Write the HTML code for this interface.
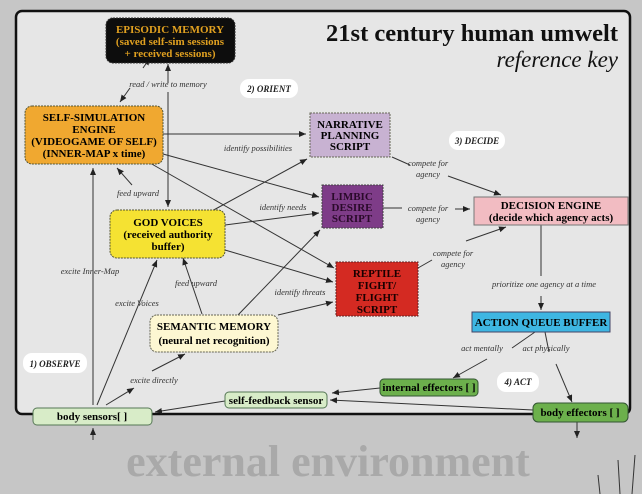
<!DOCTYPE html>
<html><head><meta charset="utf-8"><style>
body{margin:0;background:#c6c6c6;}
svg{display:block;font-family:"Liberation Serif",serif;}
.b{font-weight:bold;font-size:11px;text-anchor:middle;}
.l{font-style:italic;font-size:8.5px;fill:#333;text-anchor:middle;}
line,path.c{stroke:#333;stroke-width:1;fill:none;}
</style></head><body>
<svg width="642" height="494" viewBox="0 0 642 494">
<defs><marker id="a" markerWidth="8" markerHeight="8" refX="7" refY="3" orient="auto" markerUnits="userSpaceOnUse"><path d="M0,0 L7,3 L0,6z" fill="#222"/></marker></defs>
<rect width="642" height="494" fill="#c6c6c6"/>
<rect x="16" y="11" width="614" height="403" rx="6" fill="#e6e6e6" stroke="#111" stroke-width="2.5"/>
<text x="618" y="41" font-size="24.5" font-weight="bold" text-anchor="end" fill="#111">21st century human umwelt</text>
<text x="618" y="67" font-size="23" font-style="italic" text-anchor="end" fill="#111">reference key</text>
<text x="328" y="476" font-size="44" font-weight="bold" text-anchor="middle" fill="#a9a9a9">external environment</text>
<g stroke="#fff" stroke-width="2"><line x1="620" y1="494" x2="618" y2="460"/><line x1="632" y1="494" x2="635" y2="455"/><line x1="600" y1="494" x2="598" y2="475"/></g>

<g marker-end="url(#a)">
<line x1="143" y1="68" x2="150" y2="58"/>
<line x1="168" y1="83" x2="168" y2="64"/>
<line x1="130" y1="88" x2="120" y2="102"/>
<line x1="168" y1="92" x2="168" y2="207"/>
<line x1="163" y1="134" x2="306" y2="134"/>
<line x1="163" y1="154" x2="319" y2="197"/>
<line x1="150" y1="163" x2="334" y2="268"/>
<line x1="132" y1="185" x2="117" y2="168"/>
<line x1="210" y1="212" x2="307" y2="159"/>
<line x1="225" y1="225" x2="319" y2="213"/>
<line x1="225" y1="250" x2="333" y2="282"/>
<line x1="202" y1="314" x2="183" y2="258"/>
<line x1="238" y1="315" x2="320" y2="230"/>
<line x1="278" y1="315" x2="333" y2="302"/>
<line x1="93" y1="405" x2="93" y2="168"/>
<line x1="97" y1="405" x2="157" y2="260"/>
<line x1="106" y1="405" x2="134" y2="388"/><line x1="152" y1="371" x2="185" y2="354"/>
<line x1="392" y1="157" x2="410" y2="165" marker-end="none"/>
<line x1="448" y1="176" x2="501" y2="195"/>
<line x1="383" y1="208" x2="402" y2="208" marker-end="none"/>
<line x1="455" y1="209" x2="470" y2="209"/>
<line x1="418" y1="268" x2="432" y2="260" marker-end="none"/>
<line x1="466" y1="241" x2="506" y2="227"/>
<line x1="541" y1="225" x2="541" y2="276" marker-end="none"/>
<line x1="541" y1="296" x2="541" y2="310"/>
<line x1="535" y1="332" x2="512" y2="348" marker-end="none"/>
<line x1="487" y1="359" x2="453" y2="378"/>
<line x1="545" y1="332" x2="549" y2="352" marker-end="none"/>
<line x1="556" y1="364" x2="572" y2="402"/>
<line x1="380" y1="388" x2="332" y2="393"/>
<line x1="533" y1="410" x2="330" y2="400"/>
<line x1="225" y1="401" x2="155" y2="412"/>
<line x1="93" y1="440" x2="93" y2="428"/>
<line x1="577" y1="422" x2="577" y2="438"/>
</g>

<text class="l" x="168" y="87">read / write to memory</text>
<text class="l" x="258" y="151">identify possibilities</text>
<text class="l" x="138" y="196">feed upward</text>
<text class="l" x="283" y="210">identify needs</text>
<text class="l" x="196" y="286">feed upward</text>
<text class="l" x="300" y="295">identify threats</text>
<text class="l" x="90" y="274">excite Inner-Map</text>
<text class="l" x="137" y="306">excite Voices</text>
<text class="l" x="154" y="383">excite directly</text>
<text class="l" x="428" y="166">compete for</text><text class="l" x="428" y="177">agency</text>
<text class="l" x="428" y="211">compete for</text><text class="l" x="428" y="222">agency</text>
<text class="l" x="453" y="256">compete for</text><text class="l" x="453" y="267">agency</text>
<text class="l" x="544" y="287">prioritize one agency at a time</text>
<text class="l" x="482" y="351">act mentally</text>
<text class="l" x="546" y="351">act physically</text>

<g font-size="9" font-style="italic" font-weight="bold" text-anchor="middle" fill="#222">
<rect x="240" y="79" width="58" height="19" rx="9" fill="#fff"/><text x="269" y="92">2) ORIENT</text>
<rect x="449" y="131" width="56" height="19" rx="9" fill="#fff"/><text x="477" y="144">3) DECIDE</text>
<rect x="23" y="353" width="64" height="20" rx="9" fill="#fff"/><text x="55" y="367">1) OBSERVE</text>
<rect x="497" y="372" width="42" height="20" rx="9" fill="#fff"/><text x="518" y="385">4) ACT</text>
</g>

<rect x="106" y="18" width="129" height="45" rx="7" fill="#0d0d0d" stroke="#333" stroke-dasharray="2 1"/>
<text class="b" x="170" y="33" fill="#e0a020">EPISODIC MEMORY</text>
<text class="b" x="170" y="45" fill="#e0a020">(saved self-sim sessions</text>
<text class="b" x="170" y="57" fill="#e0a020">+ received sessions)</text>

<rect x="25" y="106" width="138" height="58" rx="7" fill="#f0a830" stroke="#553" stroke-dasharray="2 1"/>
<text class="b" x="94" y="121">SELF-SIMULATION</text>
<text class="b" x="94" y="133">ENGINE</text>
<text class="b" x="94" y="145">(VIDEOGAME OF SELF)</text>
<text class="b" x="94" y="157">(INNER-MAP x time)</text>

<rect x="110" y="210" width="115" height="48" rx="7" fill="#f5e232" stroke="#553" stroke-dasharray="2 1"/>
<text class="b" x="168" y="226">GOD VOICES</text>
<text class="b" x="168" y="238">(received authority</text>
<text class="b" x="168" y="250">buffer)</text>

<rect x="310" y="113" width="80" height="44" fill="#c8b2d2" stroke="#665" stroke-dasharray="2 1"/>
<text class="b" x="350" y="128" font-size="10">NARRATIVE</text>
<text class="b" x="350" y="139" font-size="10">PLANNING</text>
<text class="b" x="350" y="150" font-size="10">SCRIPT</text>

<rect x="322" y="185" width="61" height="43" fill="#7e3c88" stroke="#444" stroke-dasharray="2 1"/>
<text class="b" x="352" y="200" font-size="10" fill="#2a0a2a">LIMBIC</text>
<text class="b" x="352" y="211" font-size="10" fill="#2a0a2a">DESIRE</text>
<text class="b" x="352" y="222" font-size="10" fill="#2a0a2a">SCRIPT</text>

<rect x="336" y="262" width="82" height="54" fill="#d42a22" stroke="#622" stroke-dasharray="2 1"/>
<text class="b" x="377" y="277" font-size="10" fill="#1a0000">REPTILE</text>
<text class="b" x="377" y="289" font-size="10" fill="#1a0000">FIGHT/</text>
<text class="b" x="377" y="301" font-size="10" fill="#1a0000">FLIGHT</text>
<text class="b" x="377" y="313" font-size="10" fill="#1a0000">SCRIPT</text>

<rect x="474" y="197" width="154" height="28" fill="#f2bcc2" stroke="#777"/>
<text class="b" x="551" y="209" font-size="10">DECISION ENGINE</text>
<text class="b" x="551" y="221" font-size="10">(decide which agency acts)</text>

<rect x="472" y="312" width="138" height="20" fill="#3eb6e2" stroke="#446"/>
<text class="b" x="541" y="326" font-size="10">ACTION QUEUE BUFFER</text>

<rect x="150" y="315" width="128" height="37" rx="7" fill="#fdf7d2" stroke="#665" stroke-dasharray="2 1"/>
<text class="b" x="214" y="330" font-size="10">SEMANTIC MEMORY</text>
<text class="b" x="214" y="344" font-size="10" font-weight="normal">(neural net recognition)</text>

<rect x="380" y="379" width="98" height="17" rx="4" fill="#6cb04c" stroke="#353"/>
<text class="b" x="429" y="391" font-size="10">internal effectors [ ]</text>
<rect x="225" y="392" width="102" height="16" rx="4" fill="#d8ecc8" stroke="#575"/>
<text class="b" x="276" y="404" font-size="10">self-feedback sensor</text>
<rect x="33" y="408" width="119" height="17" rx="4" fill="#d8ecc8" stroke="#575"/>
<text class="b" x="92" y="420" font-size="10">body sensors[ ]</text>
<rect x="533" y="403" width="95" height="19" rx="5" fill="#6cb04c" stroke="#353"/>
<text class="b" x="580" y="416" font-size="10">body effectors [ ]</text>
</svg>
</body></html>
